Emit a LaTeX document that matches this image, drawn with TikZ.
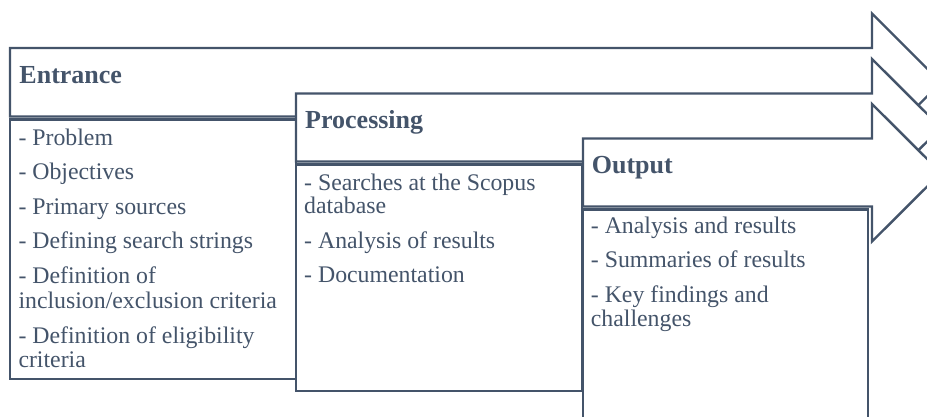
\documentclass[tikz,border=0pt]{standalone}
\usepackage{fontspec}
\setmainfont{Liberation Serif}
\definecolor{slate}{HTML}{44546A}
\tikzset{
  shapeline/.style={draw=slate, line width=2.4pt, fill=white, line join=miter},
  headtxt/.style={anchor=base west, inner sep=0pt, text=slate, font=\fontsize{26}{28}\selectfont\bfseries},
  bodytxt/.style={anchor=base west, inner sep=0pt, text=slate, font=\fontsize{23.8}{25}\selectfont},
}
\begin{document}
\begin{tikzpicture}[x=1pt,y=-1pt]
\clip (0,0) rectangle (927,417);
% Arrow 1 and box 1
\draw[shapeline] (10,48) -- (872,48) -- (872,13.5) -- (941,82.5) -- (872,151.5) -- (872,116.5) -- (10,116.5) -- cycle;
\draw[shapeline] (10,119.5) rectangle (296,379);
% Arrow 2 and box 2
\draw[shapeline] (296,93.5) -- (872,93.5) -- (872,59) -- (941,127.75) -- (872,196.5) -- (872,161.5) -- (296,161.5) -- cycle;
\draw[shapeline] (296,164.5) rectangle (582,391);
% Arrow 3 and box 3
\draw[shapeline] (583,138.5) -- (872,138.5) -- (872,104) -- (941,172.75) -- (872,241.5) -- (872,206.5) -- (583,206.5) -- cycle;
\draw[shapeline] (583,209.5) rectangle (868,440);
% Texts
\node[headtxt] (h1) at (19.3,84) {Entrance};
\node[bodytxt] (e1) at (18.3,146) {- Problem};
\node[bodytxt] (e2) at (18.3,180) {- Objectives};
\node[bodytxt] (e3) at (18.3,214.5) {- Primary sources};
\node[bodytxt] (e4) at (18.3,248.5) {- Defining search strings};
\node[bodytxt] (e5) at (18.3,283.5) {- Definition of};
\node[bodytxt] (e6) at (18.3,308) {inclusion/exclusion criteria};
\node[bodytxt] (e7) at (18.3,343) {- Definition of eligibility};
\node[bodytxt] (e8) at (18.3,367) {criteria};
\node[headtxt] (h2) at (305,128.5) {Processing};
\node[bodytxt] (p1) at (304,190) {- Searches at the Scopus};
\node[bodytxt] (p2) at (304,214) {database};
\node[bodytxt] (p3) at (304,248) {- Analysis of results};
\node[bodytxt] (p4) at (304,282.5) {- Documentation};
\node[headtxt] (h3) at (591.7,173.3) {Output};
\node[bodytxt] (o1) at (590.7,233.3) {- Analysis and results};
\node[bodytxt] (o2) at (590.7,267) {- Summaries of results};
\node[bodytxt] (o3) at (590.7,302) {- Key findings and};
\node[bodytxt] (o4) at (590.7,326) {challenges};
\end{tikzpicture}
\end{document}
